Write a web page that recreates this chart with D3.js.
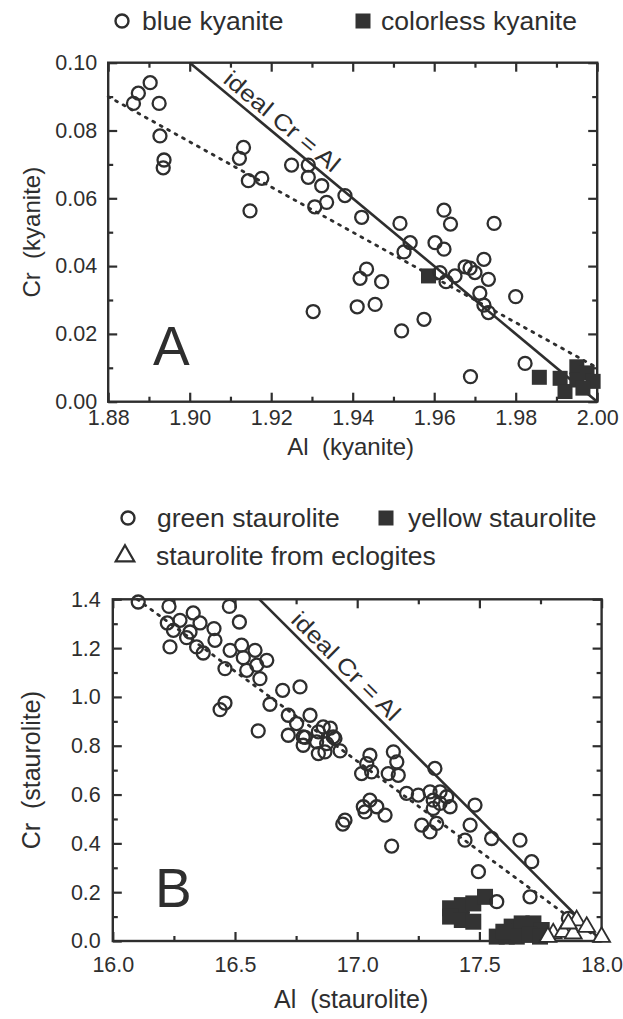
<!DOCTYPE html>
<html>
<head>
<meta charset="utf-8">
<script src="https://cdn.jsdelivr.net/npm/d3@7"></script>
<style>
  body { margin: 0; background: #fff; }
  svg { display: block; font-family: "Liberation Sans", Arial, Helvetica, sans-serif; }
</style>
</head>
<body>
<svg id="chart" width="623" height="1019"></svg>
<script>
// Panel A data: [Al, Cr] per kyanite grain
const blueKyanite = [
  [1.8862, 0.0880], [1.8874, 0.0910], [1.8903, 0.0941], [1.8925, 0.0880], [1.8927, 0.0784],
  [1.8937, 0.0713], [1.8935, 0.0690], [1.9132, 0.0750], [1.9122, 0.0718], [1.9144, 0.0652],
  [1.9177, 0.0659], [1.9148, 0.0563], [1.9250, 0.0698], [1.9291, 0.0698], [1.9291, 0.0662],
  [1.9324, 0.0637], [1.9307, 0.0575], [1.9336, 0.0588], [1.9381, 0.0608], [1.9422, 0.0544],
  [1.9516, 0.0526], [1.9624, 0.0565], [1.9640, 0.0524], [1.9747, 0.0526], [1.9541, 0.0469],
  [1.9526, 0.0442], [1.9602, 0.0469], [1.9624, 0.0450], [1.9722, 0.0420], [1.9676, 0.0398],
  [1.9700, 0.0381], [1.9733, 0.0361], [1.9614, 0.0381], [1.9651, 0.0371], [1.9629, 0.0354],
  [1.9712, 0.0320], [1.9722, 0.0285], [1.9733, 0.0263], [1.9800, 0.0310], [1.9434, 0.0391],
  [1.9418, 0.0364], [1.9471, 0.0354], [1.9411, 0.0280], [1.9455, 0.0287], [1.9520, 0.0209],
  [1.9575, 0.0243], [1.9689, 0.0074], [1.9823, 0.0113], [1.9303, 0.0266], [1.9688, 0.0394]
];
const colorlessKyanite = [
  [1.9586, 0.0371], [1.9858, 0.0072], [1.9909, 0.0069], [1.9921, 0.0030], [1.9950, 0.0103],
  [1.9950, 0.0064], [1.9975, 0.0085], [1.9990, 0.0060], [1.9965, 0.0040]
];
const kyaniteIdeal = [[1.90, 0.10], [2.00, 0.00]];
const kyaniteTrend = [[1.88, 0.09], [2.00, 0.01]];
const kyaniteXTicks = [1.88, 1.90, 1.92, 1.94, 1.96, 1.98, 2.00];
const kyaniteYTicks = [0.00, 0.02, 0.04, 0.06, 0.08, 0.10];

// Panel B data: [Al, Cr] per staurolite grain
const greenStaurolite = [
  [16.104, 1.389], [16.230, 1.371], [16.223, 1.303], [16.275, 1.314], [16.329, 1.344],
  [16.357, 1.303], [16.248, 1.273], [16.316, 1.266], [16.414, 1.280], [16.418, 1.232],
  [16.234, 1.205], [16.302, 1.243], [16.343, 1.205], [16.370, 1.180], [16.477, 1.371],
  [16.518, 1.307], [16.480, 1.191], [16.527, 1.212], [16.582, 1.191], [16.534, 1.161],
  [16.630, 1.150], [16.459, 1.116], [16.548, 1.109], [16.602, 1.075], [16.589, 1.130],
  [16.695, 1.027], [16.766, 1.041], [16.643, 0.970], [16.459, 0.975], [16.439, 0.948],
  [16.595, 0.861], [16.718, 0.925], [16.752, 0.891], [16.807, 0.925], [16.718, 0.843],
  [16.779, 0.836], [16.861, 0.877], [16.909, 0.830], [16.834, 0.816], [16.868, 0.775],
  [16.930, 0.779], [16.779, 0.802], [16.841, 0.857], [16.787, 0.834], [16.902, 0.836],
  [16.875, 0.809], [16.841, 0.768], [16.890, 0.872], [17.052, 0.761], [17.148, 0.775],
  [17.039, 0.727], [17.162, 0.734], [17.318, 0.707], [17.018, 0.686], [17.059, 0.693],
  [17.127, 0.686], [17.168, 0.679], [17.202, 0.605], [17.250, 0.598], [17.298, 0.611],
  [17.339, 0.611], [17.366, 0.591], [17.025, 0.550], [17.052, 0.577], [17.080, 0.550],
  [17.114, 0.516], [17.032, 0.529], [16.950, 0.495], [16.941, 0.479], [17.141, 0.389],
  [17.264, 0.475], [17.298, 0.447], [17.325, 0.482], [17.311, 0.543], [17.339, 0.564],
  [17.380, 0.550], [17.311, 0.577], [17.482, 0.557], [17.462, 0.475], [17.441, 0.413],
  [17.550, 0.420], [17.666, 0.413], [17.714, 0.325], [17.496, 0.284], [17.571, 0.161],
  [17.707, 0.181], [17.864, 0.093]
];
const yellowStaurolite = [
  [17.380, 0.134], [17.428, 0.147], [17.475, 0.154], [17.523, 0.181], [17.380, 0.100],
  [17.428, 0.086], [17.475, 0.079], [17.571, 0.018], [17.612, 0.018], [17.632, 0.059],
  [17.673, 0.072], [17.721, 0.072], [17.755, 0.045], [17.653, 0.018], [17.707, 0.025],
  [17.748, 0.018], [17.598, 0.038]
];
const eclogiteStaurolite = [
  [17.802, 0.018], [17.843, 0.025], [17.884, 0.018], [17.898, 0.072], [17.939, 0.045],
  [18.000, 0.004], [17.780, 0.004], [17.864, 0.059]
];
const stauroliteIdeal = [[16.6, 1.4], [18.0, 0.0]];
const stauroliteTrend = [[16.1, 1.4], [18.0, 0.0]];
const stauroliteXTicks = [16.0, 16.5, 17.0, 17.5, 18.0];
const stauroliteYTicks = [0.0, 0.2, 0.4, 0.6, 0.8, 1.0, 1.2, 1.4];

const ink = '#2e2e2e';
const svg = d3.select('#chart');

function drawPanel (p) {
  const x = d3.scaleLinear().domain(p.xDomain).range(p.xRange);
  const y = d3.scaleLinear().domain(p.yDomain).range(p.yRange);
  const g = svg.append('g');

  // Frame
  g.append('rect')
    .attr('x', p.xRange[0]).attr('y', p.yRange[1])
    .attr('width', p.xRange[1] - p.xRange[0])
    .attr('height', p.yRange[0] - p.yRange[1])
    .attr('fill', 'none').attr('stroke', ink).attr('stroke-width', 2.4);

  // Ticks, all pointing inward; labels only on bottom and left
  const axes = [
    { gen: d3.axisBottom(x), at: `translate(0,${p.yRange[0]})`, vals: p.xTicks, minor: p.xMinor, pad: p.xPad },
    { gen: d3.axisTop(x), at: `translate(0,${p.yRange[1]})`, vals: p.xTicks, minor: p.xMinor, pad: null },
    { gen: d3.axisLeft(y), at: `translate(${p.xRange[0]},0)`, vals: p.yTicks, minor: p.yMinor, pad: p.yPad },
    { gen: d3.axisRight(y), at: `translate(${p.xRange[1]},0)`, vals: p.yTicks, minor: p.yMinor, pad: null }
  ];
  axes.forEach(a => {
    const lab = a.pad !== null;
    const major = a.gen.tickValues(a.vals).tickSize(-9).tickPadding(lab ? a.pad : 0)
      .tickFormat(lab ? p.fmt : () => '');
    const ga = g.append('g').attr('transform', a.at).call(major);
    ga.select('.domain').remove();
    ga.selectAll('.tick line').attr('stroke', ink).attr('stroke-width', 2.2);
    ga.selectAll('.tick text').attr('font-size', 21.5).attr('fill', ink)
      .attr('font-family', 'Liberation Sans, Arial, sans-serif');
    const mg = g.append('g').attr('transform', a.at)
      .call(a.gen.tickValues(a.minor).tickSize(-5).tickFormat(() => ''));
    mg.select('.domain').remove();
    mg.selectAll('.tick line').attr('stroke', ink).attr('stroke-width', 2.2);
  });

  const line = d3.line().x(d => x(d[0])).y(d => y(d[1]));
  g.append('path').attr('d', line(p.ideal))
    .attr('fill', 'none').attr('stroke', ink).attr('stroke-width', 2.6);
  g.append('path').attr('d', line(p.trend))
    .attr('fill', 'none').attr('stroke', ink).attr('stroke-width', 2.8)
    .attr('stroke-dasharray', '2,6.5').attr('stroke-linecap', 'round');

  // label along ideal line
  const x0 = x(p.ideal[0][0]);
  const y0 = y(p.ideal[0][1]);
  const ang = Math.atan2(y(p.ideal[1][1]) - y0, x(p.ideal[1][0]) - x0) * 180 / Math.PI;
  g.append('text')
    .attr('transform', `translate(${x0},${y0}) rotate(${ang}) translate(${p.labelAlong},${-p.labelOff}) scale(1.15,1)`)
    .attr('font-size', 23).attr('fill', ink)
    .text('ideal Cr = Al');

  // marks
  p.squares.forEach(s => {
    g.append('g').selectAll('rect').data(s.data).join('rect')
      .attr('x', d => x(d[0]) - s.size / 2).attr('y', d => y(d[1]) - s.size / 2)
      .attr('width', s.size).attr('height', s.size).attr('fill', '#333');
  });
  g.append('g').selectAll('circle').data(p.circles).join('circle')
    .attr('cx', d => x(d[0])).attr('cy', d => y(d[1])).attr('r', 6.5)
    .attr('fill', 'none').attr('stroke', ink).attr('stroke-width', 2.3);
  if (p.triangles) {
    const tri = d3.symbol().type(d3.symbolTriangle).size(125);
    g.append('g').selectAll('path').data(p.triangles).join('path')
      .attr('transform', d => `translate(${x(d[0])},${y(d[1]) - 3})`)
      .attr('d', tri).attr('fill', '#fff').attr('stroke', ink).attr('stroke-width', 1.8);
  }

  // panel letter
  g.append('text').attr('x', p.letterPos[0]).attr('y', p.letterPos[1])
    .attr('font-size', 55).attr('fill', ink).text(p.letter);

  // axis titles
  g.append('text')
    .attr('x', (p.xRange[0] + p.xRange[1]) / 2 + p.xTitleDx).attr('y', p.yRange[0] + p.xTitleDy)
    .attr('text-anchor', 'middle').attr('font-size', p.titleSize).attr('fill', ink)
    .attr('xml:space', 'preserve').text(p.xTitle);
  g.append('text')
    .attr('transform', `translate(40,${(p.yRange[0] + p.yRange[1]) / 2}) rotate(-90)`)
    .attr('text-anchor', 'middle').attr('font-size', p.titleSize).attr('fill', ink)
    .attr('xml:space', 'preserve').text(p.yTitle);
}

drawPanel({
  xDomain: [1.88, 2.00], xRange: [108.2, 597.2],
  yDomain: [0, 0.10], yRange: [401.7, 62.7],
  xTicks: kyaniteXTicks, yTicks: kyaniteYTicks,
  xMinor: [1.89, 1.91, 1.93, 1.95, 1.97, 1.99],
  yMinor: [0.01, 0.03, 0.05, 0.07, 0.09],
  xPad: 8, yPad: 11,
  fmt: d3.format('.2f'),
  ideal: kyaniteIdeal, trend: kyaniteTrend, labelAlong: 37, labelOff: 6,
  circles: blueKyanite,
  squares: [{ data: colorlessKyanite, size: 15 }],
  letter: 'A', letterPos: [153, 365],
  xTitle: 'Al  (kyanite)', xTitleDx: -2, xTitleDy: 53, titleSize: 24,
  yTitle: 'Cr  (kyanite)'
});

drawPanel({
  xDomain: [16.0, 18.0], xRange: [112.8, 601.6],
  yDomain: [0, 1.4], yRange: [941, 599.3],
  xTicks: stauroliteXTicks, yTicks: stauroliteYTicks,
  xMinor: [16.25, 16.75, 17.25, 17.75],
  yMinor: [0.1, 0.3, 0.5, 0.7, 0.9, 1.1, 1.3],
  xPad: 16, yPad: 12,
  fmt: d3.format('.1f'),
  ideal: stauroliteIdeal, trend: stauroliteTrend, labelAlong: 37, labelOff: 6,
  circles: greenStaurolite,
  squares: [{ data: yellowStaurolite, size: 16 }],
  triangles: eclogiteStaurolite,
  letter: 'B', letterPos: [155, 907],
  xTitle: 'Al  (staurolite)', xTitleDx: -6, xTitleDy: 67, titleSize: 25,
  yTitle: 'Cr  (staurolite)'
});

// Legends
function legendItem (kind, cx, cy, tx, label) {
  const lg = svg.append('g');
  if (kind === 'circle') {
    lg.append('circle').attr('cx', cx).attr('cy', cy).attr('r', 6.5)
      .attr('fill', 'none').attr('stroke', ink).attr('stroke-width', 2.4);
  } else if (kind === 'square') {
    lg.append('rect').attr('x', cx - 7.5).attr('y', cy - 7.5).attr('width', 15).attr('height', 15).attr('fill', '#333');
  } else {
    lg.append('path').attr('transform', `translate(${cx},${cy})`)
      .attr('d', d3.symbol().type(d3.symbolTriangle).size(150))
      .attr('fill', '#fff').attr('stroke', ink).attr('stroke-width', 2.2);
  }
  lg.append('text').attr('x', tx).attr('y', cy + 9)
    .attr('font-size', 26.5).attr('fill', ink).text(label);
}
legendItem('circle', 122, 21, 142, 'blue kyanite');
legendItem('square', 363, 21, 381, 'colorless kyanite');
legendItem('circle', 128, 518, 157, 'green staurolite');
legendItem('square', 386, 518, 408, 'yellow staurolite');
legendItem('triangle', 125, 556, 156, 'staurolite from eclogites');
</script>
</body>
</html>
